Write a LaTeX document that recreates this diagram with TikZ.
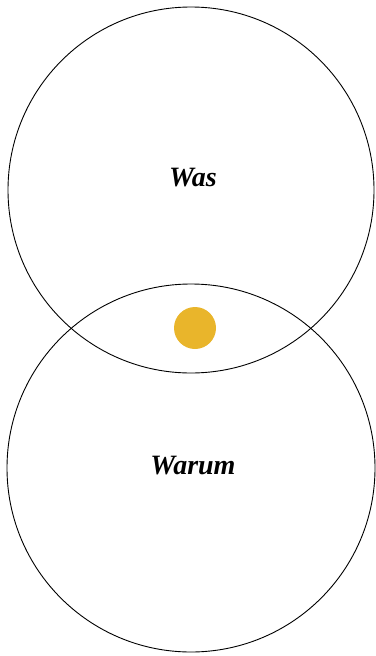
\documentclass[tikz,border=0pt]{standalone}
\usepackage{fontspec}
\setmainfont{Liberation Serif}
\usepackage{xcolor}
\definecolor{dotyellow}{HTML}{E9B52B}
\begin{document}
\begin{tikzpicture}[
  x=1pt, y=-1pt,
  ring/.style={draw, circle, inner sep=0pt, minimum size=366pt, line width=0.9pt},
  word/.style={font=\fontsize{28}{30}\selectfont\bfseries\itshape, inner sep=0pt}]
\useasboundingbox (0,0) rectangle (375,656);
\node[ring] (top) at (191,190) {};
\node[ring, minimum size=368pt] (bottom) at (191,468) {};
\node[circle, fill=dotyellow, minimum size=42pt, inner sep=0pt] (dot) at (195,328) {};
\node[word] (was) at (193,178) {Was};
\node[word] (warum) at (193,466) {Warum};
\end{tikzpicture}
\end{document}
